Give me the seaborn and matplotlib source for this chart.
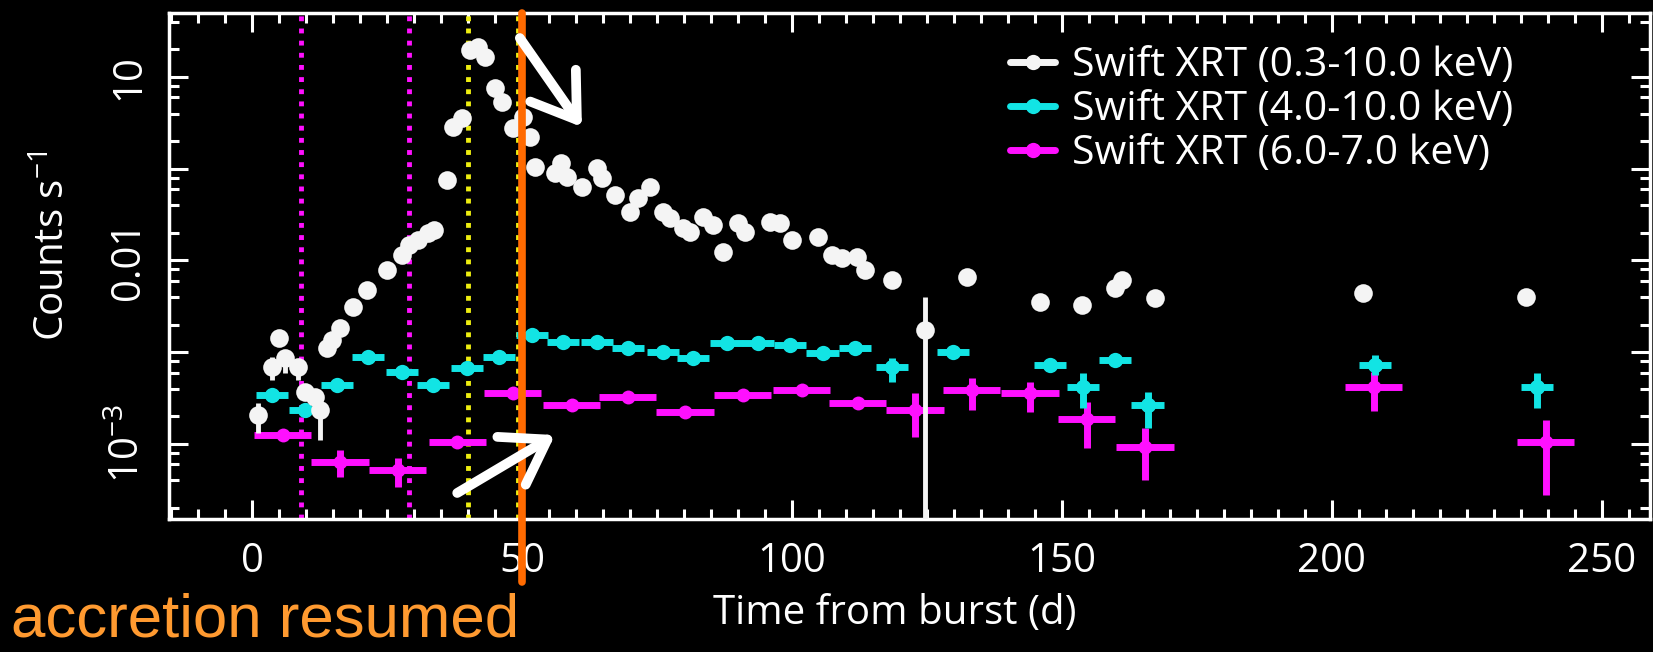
import numpy as np
import pandas as pd
import seaborn as sns
import matplotlib.pyplot as plt
from matplotlib.lines import Line2D
from matplotlib.ticker import MultipleLocator, LogLocator, NullFormatter

# --- data ---
white_day = [1.1, 3.7, 4.9, 6.1, 8.5, 9.8, 11.7, 12.6, 13.9, 14.8, 16.3, 18.7, 21.3, 25.0,
             27.8, 29.0, 30.8, 32.6, 33.7, 36.1, 37.2, 38.9, 40.4, 41.9, 43.1, 45.0, 46.3,
             48.3, 50.2, 51.5, 52.4, 56.1, 57.3, 58.3, 61.1, 63.9, 64.8, 67.2, 70.0, 71.5,
             73.7, 76.1, 77.4, 79.8, 81.1, 83.5, 85.4, 87.2, 90.0, 91.3, 95.9, 97.8, 100.0,
             104.8, 107.4, 109.3, 112.0, 113.5, 118.5, 124.6, 132.4, 145.9, 153.7, 159.8,
             161.1, 167.2, 205.8, 235.9]
white_rate = [0.00207, 0.0069, 0.0143, 0.00865, 0.0069, 0.0037, 0.00324, 0.00234, 0.0111,
              0.0136, 0.0184, 0.0311, 0.0479, 0.0794, 0.115, 0.148, 0.167, 0.20, 0.215,
              0.753, 2.85, 3.57, 19.7, 21.2, 16.5, 7.59, 5.37, 2.78, 3.66, 2.22, 1.04, 0.90,
              1.16, 0.81, 0.63, 1.02, 0.79, 0.52, 0.34, 0.48, 0.63, 0.34, 0.29, 0.226, 0.205,
              0.298, 0.244, 0.124, 0.256, 0.205, 0.263, 0.256, 0.167, 0.18, 0.115, 0.106,
              0.109, 0.0787, 0.0614, 0.0175, 0.066, 0.0353, 0.0327, 0.0501, 0.0614, 0.039,
              0.0443, 0.040]
# only the few white points whose error bars stick out of the marker
white_err_day = [1.1, 3.7, 6.1, 8.5, 12.6, 124.6]
white_err_rate = [0.00207, 0.0069, 0.00865, 0.0069, 0.00234, 0.0175]
white_err_lo = [0.00075, 0.0019, 0.0027, 0.0019, 0.00124, 0.0174999]
white_err_hi = [0.0007, 0.0019, 0.0, 0.0, 0.0012, 0.0225]

cyan_day = [3.7, 9.8, 15.7, 21.5, 27.8, 33.5, 39.8, 45.7, 51.9, 57.6, 63.9, 69.6, 76.1,
            81.7, 87.9, 93.7, 99.6, 105.7, 111.7, 118.5, 129.8, 147.8, 153.9, 159.8, 165.9,
            208.0, 238.0]
cyan_rate = [0.00342, 0.00234, 0.00440, 0.00887, 0.00610, 0.00440, 0.00673, 0.00887,
             0.0154, 0.0129, 0.0129, 0.0111, 0.0101, 0.00865, 0.0126, 0.0126, 0.0120,
             0.00982, 0.0111, 0.00690, 0.0101, 0.00726, 0.00418, 0.00824, 0.00266,
             0.00726, 0.00418]
cyan_err_lo = [0.0004, 0.0003, 0.0005, 0.0010, 0.0007, 0.0005, 0.0008, 0.0010, 0.0017,
               0.0014, 0.0014, 0.0012, 0.0011, 0.0010, 0.0014, 0.0014, 0.0013, 0.0011,
               0.0012, 0.0022, 0.0011, 0.0009, 0.0017, 0.0010, 0.00117, 0.0016, 0.0017]
cyan_err_hi = [0.0004, 0.0003, 0.0005, 0.0010, 0.0007, 0.0005, 0.0008, 0.0010, 0.0017,
               0.0014, 0.0014, 0.0012, 0.0011, 0.0010, 0.0014, 0.0014, 0.0013, 0.0011,
               0.0012, 0.00175, 0.0011, 0.0009, 0.0018, 0.0010, 0.00103, 0.0021, 0.0018]
cyan_halfbin = 3.0

mag_day = [5.7, 16.3, 27.0, 38.0, 48.3, 59.2, 69.6, 80.2, 90.9, 101.8, 112.2, 122.8, 133.3,
           144.1, 154.6, 165.4, 207.8, 239.6]
mag_rate = [0.00125, 0.000637, 0.000521, 0.00105, 0.00360, 0.00266, 0.00325, 0.00223,
            0.00342, 0.00388, 0.00280, 0.00234, 0.00388, 0.00360, 0.00187, 0.000927,
            0.00418, 0.00105]
mag_err_lo = [0.0001, 0.0002, 0.000181, 0.00012, 0.0003, 0.00025, 0.0003, 0.0002, 0.0003,
              0.0003, 0.00025, 0.00115, 0.00154, 0.00137, 0.00096, 0.00052, 0.0019, 0.00077]
mag_err_hi = [0.0001, 0.000224, 0.000182, 0.00012, 0.0003, 0.00025, 0.0003, 0.0002, 0.0003,
              0.0003, 0.00025, 0.00126, 0.00136, 0.00114, 0.0010, 0.00056, 0.0019, 0.00078]
mag_halfbin = 5.3

magenta_lines = [9.0, 29.0]
yellow_lines = [40.0, 49.2]
resumed_day = 50.0

arrow_down = ((49.6, 26.6), (61.1, 2.85))      # (tail, tip)
arrow_up = ((38.0, 2.92e-4), (56.1, 1.25e-3))

labels = ['Swift XRT (0.3-10.0 keV)', 'Swift XRT (4.0-10.0 keV)', 'Swift XRT (6.0-7.0 keV)']

WHITE = '#f4f4f4'
CYAN = '#12e4e4'
MAGENTA = '#ff10ff'
YELLOW = '#eeee10'
ORANGE = '#ff6a00'

sns.set_theme(style='ticks')
plt.rcParams['font.family'] = ['Open Sans', 'DejaVu Sans']
plt.rcParams['mathtext.fontset'] = 'custom'
plt.rcParams['mathtext.rm'] = 'Open Sans'
plt.rcParams['mathtext.it'] = 'Open Sans'

fig, ax = plt.subplots(figsize=(16.53, 6.52), dpi=100)
fig.patch.set_facecolor('black')
ax.set_facecolor('black')
fig.subplots_adjust(left=0.1022, right=0.998, bottom=0.204, top=0.980)

# reference lines
for d in magenta_lines:
    ax.axvline(d, color=MAGENTA, lw=3.5, ls=(0, (1, 1.5)), zorder=1)
for d in yellow_lines:
    ax.axvline(d, color=YELLOW, lw=3.5, ls=(0, (1, 1.5)), zorder=1)

# 6-7 keV and 4-10 keV bins
ax.errorbar(mag_day, mag_rate, xerr=mag_halfbin, yerr=[mag_err_lo, mag_err_hi],
            fmt='o', ms=10, color=MAGENTA, ecolor=MAGENTA, elinewidth=5, capsize=0,
            mew=0, zorder=3)
ax.errorbar(cyan_day, cyan_rate, xerr=cyan_halfbin, yerr=[cyan_err_lo, cyan_err_hi],
            fmt='o', ms=11, color=CYAN, ecolor=CYAN, elinewidth=5, capsize=0,
            mew=0, zorder=3)

# full band
ax.errorbar(white_err_day, white_err_rate, yerr=[white_err_lo, white_err_hi], fmt='none',
            ecolor=WHITE, elinewidth=3.5, capsize=0, zorder=4)
df_white = pd.DataFrame({'day': white_day, 'rate': white_rate})
sns.scatterplot(data=df_white, x='day', y='rate', color=WHITE, s=180, linewidth=0,
                ax=ax, zorder=5, legend=False)

ax.set_yscale('log')
ax.set_xlim(-15.4, 258.9)
ax.set_ylim(1.52e-4, 49.8)

# orange marker line, running below the axis
ax.axvline(resumed_day, ymin=-0.1245, ymax=1.0, color=ORANGE, lw=5.5, clip_on=False,
           zorder=6)

for tail, tip in (arrow_down, arrow_up):
    ax.annotate('', xy=tip, xytext=tail,
                arrowprops=dict(arrowstyle='->, head_length=0.75, head_width=0.5',
                                color='white', lw=7, mutation_scale=40,
                                shrinkA=0, shrinkB=0),
                zorder=7)

# axes cosmetics
for sp in ax.spines.values():
    sp.set_color('white')
    sp.set_linewidth(2.5)
ax.xaxis.set_major_locator(MultipleLocator(50))
ax.xaxis.set_minor_locator(MultipleLocator(5))
ax.yaxis.set_major_locator(LogLocator(base=10, numticks=10))
ax.yaxis.set_minor_locator(LogLocator(base=10, subs=(2, 4, 6, 8), numticks=20))
ax.yaxis.set_minor_formatter(NullFormatter())
ax.set_yticks([1e-3, 1e-2, 1e-1, 1, 10], labels=['$10^{-3}$', '', '0.01', '', '10'])

ax.tick_params(which='both', direction='in', top=True, right=True, color='white',
               width=2.2, labelcolor='white', labelsize=29)
ax.tick_params(which='major', length=14)
ax.tick_params(which='minor', length=7)
ax.tick_params(axis='x', pad=16)
ax.tick_params(axis='y', pad=14, labelrotation=90)
for lab in ax.get_yticklabels():
    lab.set_va('center')

ax.set_xlabel('Time from burst (d)', color='white', fontsize=29)
ax.set_ylabel('Counts s$^{-1}$', color='white', fontsize=29)
ax.xaxis.set_label_coords(0.49, -0.148)
ax.yaxis.set_label_coords(-0.064, 0.54)

handles = [Line2D([0], [0], color=c, marker='o', ms=11, lw=5, mew=0)
           for c in (WHITE, CYAN, MAGENTA)]
leg = ax.legend(handles, labels, loc='upper left', bbox_to_anchor=(0.568, 0.935),
                frameon=False, fontsize=29.5, handlelength=1.1, handletextpad=0.42,
                labelspacing=0.08, borderpad=0, borderaxespad=0)
for t in leg.get_texts():
    t.set_color('white')

fig.text(11 / 1653, 0.004, 'accretion resumed', color='#ff9a30', fontsize=44.5,
         family=['Liberation Sans', 'DejaVu Sans'], va='bottom', ha='left')

fig.savefig('out.png', dpi=100, facecolor=fig.get_facecolor())
